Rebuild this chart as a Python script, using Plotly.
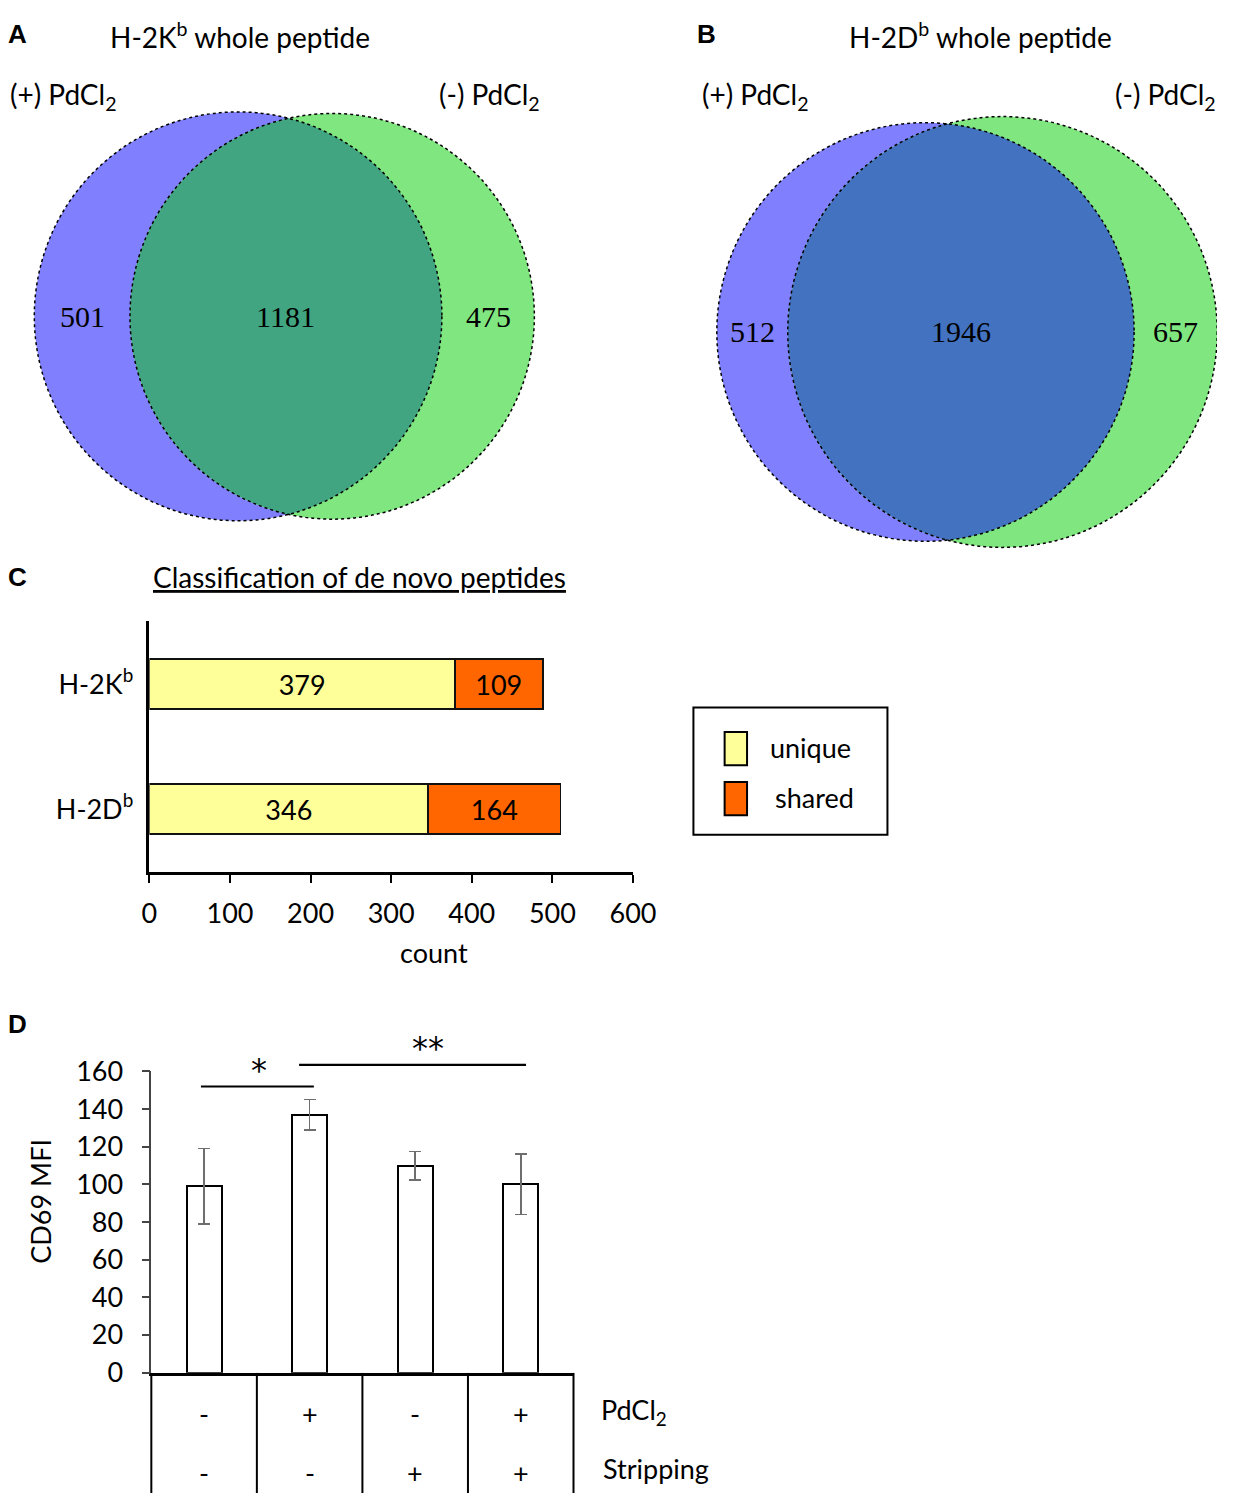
import numpy as np
import plotly.graph_objects as go

W, H = 1240, 1508
SANS = "Lato"
SERIF = "Liberation Serif"

# ---- data ----
# Venn counts: only (+) PdCl2, shared, only (-) PdCl2
venn_a_counts = [501, 1181, 475]
venn_b_counts = [512, 1946, 657]
venn_set_names = ["(+) PdCl<sub>2</sub>", "(-) PdCl<sub>2</sub>"]

# C: de novo peptide classification
c_groups = ["H-2K<sup>b</sup>", "H-2D<sup>b</sup>"]
c_series = ["unique", "shared"]
c_unique = [379, 346]
c_shared = [109, 164]
c_ticks = [0, 100, 200, 300, 400, 500, 600]

# D: CD69 MFI
d_mean = [99, 137, 110, 100]
d_err = [20, 8, 7.5, 16]
d_pdcl2 = ["-", "+", "-", "+"]
d_strip = ["-", "-", "+", "+"]
d_ticks = [0, 20, 40, 60, 80, 100, 120, 140, 160]
# significance brackets: start, end, height, label, label position
d_sig_x0 = [-0.03, 0.9]
d_sig_x1 = [1.04, 3.05]
d_sig_y = [152, 163.5]
d_sig_text = ["*", "**"]
d_sig_tx = [0.52, 2.12]

BLUE = "#8080ff"
GREEN = "#80e680"
YELLOW = "#ffff99"
ORANGE = "#ff6600"


def dom_x(a, b):
    return [a / W, b / W]


def dom_y(top, bottom):
    return [1 - bottom / H, 1 - top / H]


def lens_area(r1, r2, d):
    if d >= r1 + r2:
        return 0.0
    if d <= abs(r1 - r2):
        return np.pi * min(r1, r2) ** 2
    a1 = r1 ** 2 * np.arccos((d * d + r1 * r1 - r2 * r2) / (2 * d * r1))
    a2 = r2 ** 2 * np.arccos((d * d + r2 * r2 - r1 * r1) / (2 * d * r2))
    a3 = 0.5 * np.sqrt((-d + r1 + r2) * (d + r1 - r2) * (d - r1 + r2) * (d + r1 + r2))
    return a1 + a2 - a3


def venn_geom(counts):
    a, ab, b = counts
    r1 = np.sqrt((a + ab) / np.pi)
    r2 = np.sqrt((b + ab) / np.pi)
    lo, hi = abs(r1 - r2), r1 + r2
    for _ in range(80):
        mid = (lo + hi) / 2
        if lens_area(r1, r2, mid) > ab:
            lo = mid
        else:
            hi = mid
    return r1, r2, (lo + hi) / 2


def lens_points(r1, r2, d, n=150):
    xi = (d * d + r1 * r1 - r2 * r2) / (2 * d)
    h = np.sqrt(r1 * r1 - xi * xi)
    t1 = np.arctan2(h, xi)
    t2 = np.arctan2(h, d - xi)
    a = np.linspace(-t1, t1, n)
    b = np.linspace(np.pi - t2, np.pi + t2, n)
    xs = np.concatenate([r1 * np.cos(a), d + r2 * np.cos(b)])
    ys = np.concatenate([r1 * np.sin(a), r2 * np.sin(b)])
    return xs, ys


fig = go.Figure()
shapes = []
annotations = []


def ann(text, x, y, size=26, xanchor="center", family=SANS, **kw):
    annotations.append(dict(text=text, x=x / W, y=1 - y / H, xref="paper", yref="paper",
                            showarrow=False, xanchor=xanchor, yanchor="middle",
                            font=dict(family=family, size=size, color="black"), **kw))


def data_ann(text, x, y, xref, yref, size=27, family=SANS):
    annotations.append(dict(text=text, x=x, y=y, xref=xref, yref=yref, showarrow=False,
                            xanchor="center", yanchor="middle",
                            font=dict(family=family, size=size, color="black")))


# ---- Venn panels ----
venn_panels = [
    # counts, axis id, box (x0, y0, x1, y1), left circle centre px, radius px, lens colour
    (venn_a_counts, "", (0, 85, 620, 530), (236, 305), 209, "#40a580"),
    (venn_b_counts, "2", (700, 85, 1240, 552), (941, 321), 214, "#4272c0"),
]
for counts, ax, box, (cx, cy), rpx, lens_col in venn_panels:
    r1, r2, d = venn_geom(counts)
    s = rpx / r1
    bx0, by0, bx1, by1 = box
    xr = [(bx0 - cx) / s, (bx1 - cx) / s]
    yr = [(cy - by1) / s, (cy - by0) / s]
    fig.update_layout(**{
        "xaxis" + ax: dict(domain=dom_x(bx0, bx1), range=xr, visible=False),
        "yaxis" + ax: dict(domain=dom_y(by0, by1), range=yr, visible=False),
    })
    xref, yref = "x" + ax, "y" + ax
    for (ccx, rr, col) in [(0, r1, BLUE), (d, r2, GREEN)]:
        shapes.append(dict(type="circle", xref=xref, yref=yref, x0=ccx - rr, x1=ccx + rr,
                           y0=-rr, y1=rr, fillcolor=col, line=dict(width=0), layer="below"))
    lx, ly = lens_points(r1, r2, d)
    fig.add_trace(go.Scatter(x=lx, y=ly, fill="toself", fillcolor=lens_col, mode="lines",
                             line=dict(width=0), hoverinfo="skip", showlegend=False,
                             xaxis=xref, yaxis=yref))
    for (ccx, rr) in [(0, r1), (d, r2)]:
        shapes.append(dict(type="circle", xref=xref, yref=yref, x0=ccx - rr, x1=ccx + rr,
                           y0=-rr, y1=rr, fillcolor="rgba(0,0,0,0)",
                           line=dict(color="black", width=1.5, dash="dot"), layer="above"))
    # region labels sit midway between the circle edges
    label_x = [(-r1 + d - r2) / 2, (d - r2 + r1) / 2, (r1 + d + r2) / 2]
    for lxv, v in zip(label_x, counts):
        data_ann(str(v), lxv, 0, xref, yref, size=30, family=SERIF)

ann("<b>A</b>", 10, 16, size=26, family="Liberation Sans")
ann("H-2K<sup>b</sup> whole peptide", 238, 18, size=28)
ann(venn_set_names[0], 0, 80, size=28, xanchor="left")
ann(venn_set_names[1], 440, 80, size=28, xanchor="left")
ann("<b>B</b>", 716, 16, size=26, family="Liberation Sans")
ann("H-2D<sup>b</sup> whole peptide", 997, 18, size=28)
ann(venn_set_names[0], 710, 80, size=28, xanchor="left")
ann(venn_set_names[1], 1133, 80, size=28, xanchor="left")

# ---- Panel C ----
ann("<b>C</b>", 10, 572, size=26, family="Liberation Sans")
ann("<u>Classification of de novo peptides</u>", 360, 571, size=28)
for name, vals, col in [(c_series[0], c_unique, YELLOW), (c_series[1], c_shared, ORANGE)]:
    fig.add_trace(go.Bar(y=c_groups, x=vals, orientation="h", name=name, width=0.4,
                         marker=dict(color=col, line=dict(color="#111", width=1.8)),
                         text=vals, textposition="inside", insidetextanchor="middle",
                         textangle=0, constraintext="none",
                         textfont=dict(family=SANS, size=27, color="black"),
                         showlegend=False, xaxis="x3", yaxis="y3"))
fig.update_layout(
    xaxis3=dict(domain=dom_x(145, 641), range=[0, 600], tickvals=c_ticks, ticks="outside",
                ticklen=8, tickwidth=2, tickcolor="black", showline=True, linecolor="black",
                linewidth=2.5, showgrid=False, zeroline=False, anchor="y3",
                tickfont=dict(family=SANS, size=27, color="black"), ticklabelstandoff=8),
    yaxis3=dict(domain=dom_y(617, 873), type="category", range=[1.5, -0.5], showline=True,
                linecolor="black", linewidth=2.5, ticks="", showgrid=False, zeroline=False,
                anchor="x3", tickfont=dict(family=SANS, size=27, color="black"),
                ticklabelstandoff=8),
)
ann("count", 437, 955, size=27)

# manual legend box
shapes.append(dict(type="rect", xref="paper", yref="paper", x0=703 / W, x1=902 / W,
                   y0=1 - 835 / H, y1=1 - 705 / H, line=dict(color="black", width=2),
                   fillcolor="white"))
for (top, col, name, tx) in [(730, YELLOW, c_series[0], 779), (781, ORANGE, c_series[1], 785)]:
    shapes.append(dict(type="rect", xref="paper", yref="paper", x0=735 / W, x1=758 / W,
                       y0=1 - (top + 34) / H, y1=1 - top / H,
                       line=dict(color="black", width=2), fillcolor=col))
    ann(name, tx, top + 16, size=27, xanchor="left")

# ---- Panel D ----
ann("<b>D</b>", 10, 1028, size=26, family="Liberation Sans")
cat_x = list(range(len(d_mean)))
fig.add_trace(go.Bar(x=cat_x, y=d_mean, width=0.33,
                     marker=dict(color="white", line=dict(color="black", width=2)),
                     error_y=dict(type="data", array=d_err, color="#6e6e6e", thickness=1.6,
                                  width=6),
                     showlegend=False, xaxis="x4", yaxis="y4"))
unit = (580 - 147) / 4.0


def cat_range(p0, p1):
    return [(p0 - 147) / unit - 0.5, (p1 - 147) / unit - 0.5]


fig.update_layout(
    barmode="stack",
    xaxis4=dict(domain=dom_x(147, 580), range=[-0.5, 3.5], showline=True, linecolor="black",
                linewidth=2.5, showticklabels=False, ticks="", showgrid=False, zeroline=False,
                anchor="y4"),
    yaxis4=dict(domain=dom_y(1077, 1385), range=[0, 160], tickvals=d_ticks, ticks="outside",
                ticklen=8, tickwidth=1.6, tickcolor="#444", showline=True, linecolor="#444",
                linewidth=1.6, showgrid=False, zeroline=False, anchor="x4",
                tickfont=dict(family=SANS, size=27, color="black"), ticklabelstandoff=13),
)
ann("CD69 MFI", 33, 1210, size=27, textangle=-90)

# significance brackets (same scale as the bar axis)
py_per = (1385 - 1077) / 160.0
fig.update_layout(
    xaxis5=dict(domain=dom_x(137, 590), range=cat_range(137, 590), visible=False, anchor="y5"),
    yaxis5=dict(domain=dom_y(1030, 1100), range=[(1385 - 1100) / py_per, (1385 - 1030) / py_per],
                visible=False, anchor="x5"),
)
for x0, x1, y in zip(d_sig_x0, d_sig_x1, d_sig_y):
    fig.add_trace(go.Scatter(x=[x0, x1], y=[y, y], mode="lines",
                             line=dict(color="black", width=2.2), hoverinfo="skip",
                             showlegend=False, xaxis="x5", yaxis="y5"))
for tx, y, t in zip(d_sig_tx, d_sig_y, d_sig_text):
    data_ann(t, tx, y + 9, "x5", "y5", size=32, family="DejaVu Sans")

# condition table under the bars
fig.update_layout(
    xaxis6=dict(domain=dom_x(137, 760), range=cat_range(137, 760), visible=False, anchor="y6"),
    yaxis6=dict(domain=dom_y(1385, 1508), range=[0, 1], visible=False, anchor="x6"),
)
bx, by = [], []
for b in np.arange(-0.5, len(d_mean), 1.0):
    bx += [b, b, None]
    by += [0, 1, None]
fig.add_trace(go.Scatter(x=bx, y=by, mode="lines", line=dict(color="black", width=2),
                         hoverinfo="skip", showlegend=False, xaxis="x6", yaxis="y6"))
for row, yv in [(d_pdcl2, 0.66), (d_strip, 0.17)]:
    for xv, t in zip(cat_x, row):
        data_ann(t, xv, yv, "x6", "y6", size=27)
ann("PdCl<sub>2</sub>", 606, 1425, size=27, xanchor="left")
ann("Stripping", 608, 1483, size=27, xanchor="left")

fig.update_layout(width=W, height=H, margin=dict(l=0, r=0, t=0, b=0),
                  paper_bgcolor="white", plot_bgcolor="rgba(0,0,0,0)",
                  shapes=shapes, annotations=annotations, showlegend=False)

fig.write_html("out.html", config={"displayModeBar": False},
               post_script="document.body.style.margin='0';")
